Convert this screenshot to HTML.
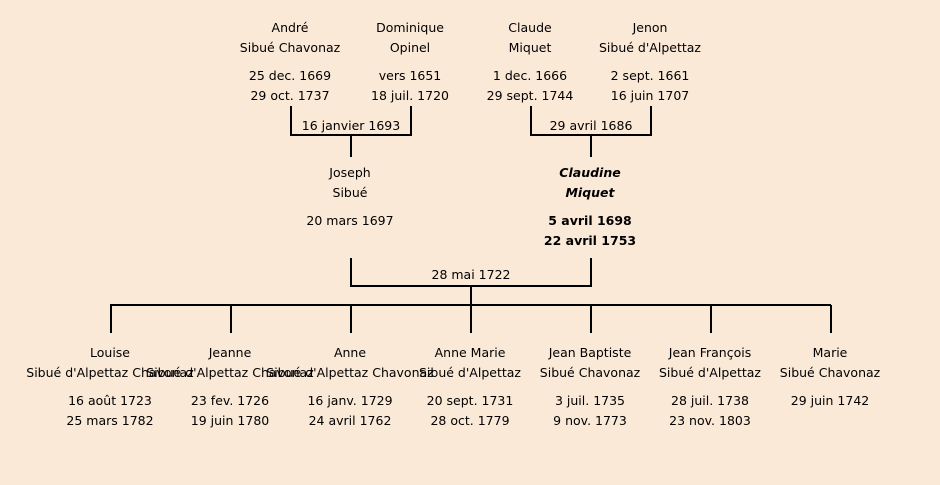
<!DOCTYPE html>
<html><head><meta charset="utf-8"><style>
html,body{margin:0;padding:0;background:#fbe9d7;}
svg{display:block}
text{font-family:"DejaVu Sans","Liberation Sans",sans-serif;font-size:12.5px;fill:#000;text-anchor:middle;}
.b{font-weight:bold}
</style></head><body>
<svg width="940" height="485" viewBox="0 0 940 485">
<rect width="940" height="485" fill="#fbe9d7"/>
<g stroke="#000" stroke-width="2" fill="none">
<path d="M291 106V135H411V106M351 135V157"/>
<path d="M531 106V135H651V106M591 135V157"/>
<path d="M351 258V286H591V258M471 286V305"/>
<path d="M110 305H831M111 305V333M231 305V333M351 305V333M471 305V333M591 305V333M711 305V333M831 305V333"/>
</g>
<g>
<text x="290" y="32">André</text><text x="290" y="52">Sibué Chavonaz</text><text x="290" y="80">25 dec. 1669</text><text x="290" y="100">29 oct. 1737</text>
<text x="410" y="32">Dominique</text><text x="410" y="52">Opinel</text><text x="410" y="80">vers 1651</text><text x="410" y="100">18 juil. 1720</text>
<text x="530" y="32">Claude</text><text x="530" y="52">Miquet</text><text x="530" y="80">1 dec. 1666</text><text x="530" y="100">29 sept. 1744</text>
<text x="650" y="32">Jenon</text><text x="650" y="52">Sibué d'Alpettaz</text><text x="650" y="80">2 sept. 1661</text><text x="650" y="100">16 juin 1707</text>
<text x="351" y="130">16 janvier 1693</text>
<text x="591" y="130">29 avril 1686</text>
<text x="350" y="177">Joseph</text><text x="350" y="197">Sibué</text><text x="350" y="225">20 mars 1697</text>
<text class="b" x="590" y="177" font-style="italic">Claudine</text><text class="b" x="590" y="197" font-style="italic">Miquet</text><text class="b" x="590" y="225">5 avril 1698</text><text class="b" x="590" y="245">22 avril 1753</text>
<text x="471" y="279">28 mai 1722</text>
<text x="110" y="357">Louise</text><text x="110" y="377">Sibué d'Alpettaz Chavonaz</text><text x="110" y="405">16 août 1723</text><text x="110" y="425">25 mars 1782</text>
<text x="230" y="357">Jeanne</text><text x="230" y="377">Sibué d'Alpettaz Chavonaz</text><text x="230" y="405">23 fev. 1726</text><text x="230" y="425">19 juin 1780</text>
<text x="350" y="357">Anne</text><text x="350" y="377">Sibué d'Alpettaz Chavonaz</text><text x="350" y="405">16 janv. 1729</text><text x="350" y="425">24 avril 1762</text>
<text x="470" y="357">Anne Marie</text><text x="470" y="377">Sibué d'Alpettaz</text><text x="470" y="405">20 sept. 1731</text><text x="470" y="425">28 oct. 1779</text>
<text x="590" y="357">Jean Baptiste</text><text x="590" y="377">Sibué Chavonaz</text><text x="590" y="405">3 juil. 1735</text><text x="590" y="425">9 nov. 1773</text>
<text x="710" y="357">Jean François</text><text x="710" y="377">Sibué d'Alpettaz</text><text x="710" y="405">28 juil. 1738</text><text x="710" y="425">23 nov. 1803</text>
<text x="830" y="357">Marie</text><text x="830" y="377">Sibué Chavonaz</text><text x="830" y="405">29 juin 1742</text>
</g>
</svg>
</body></html>
